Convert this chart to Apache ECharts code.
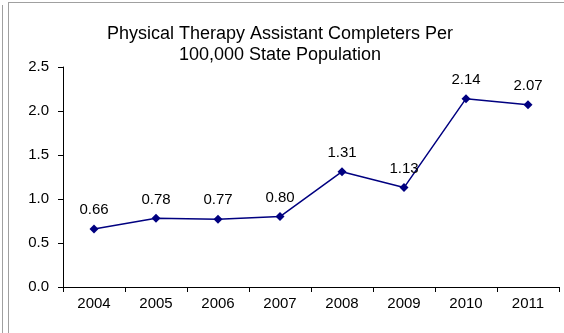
<!DOCTYPE html>
<html><head><meta charset="utf-8">
<script src="https://cdn.jsdelivr.net/npm/echarts@6/dist/echarts.min.js"></script>
<style>html,body{margin:0;padding:0;background:#fff}#c{width:564px;height:333px}</style>
</head><body><div id="c"></div>
<script>
const years = ['2004','2005','2006','2007','2008','2009','2010','2011'];
const completers = [0.66, 0.78, 0.77, 0.80, 1.31, 1.13, 2.14, 2.07];
const titleText = 'Physical Therapy Assistant Completers Per\n100,000 State Population';
const font = 'Liberation Sans, Arial, sans-serif';
const chart = echarts.init(document.getElementById('c'), null, {renderer:'canvas'});
chart.setOption({
  animation:false,
  backgroundColor:'#fff',
  title:{text:titleText,left:275,top:19,textAlign:'center',
    textStyle:{fontFamily:font,fontSize:18,fontWeight:'normal',color:'#000',lineHeight:21}},
  grid:{left:63,right:5,top:67,bottom:46},
  xAxis:{type:'category',data:years,boundaryGap:true,
    axisLine:{lineStyle:{color:'#000',width:1}},
    axisTick:{show:true,length:5,lineStyle:{color:'#000'},alignWithLabel:false},
    axisLabel:{color:'#000',fontFamily:font,fontSize:15,margin:9},
    splitLine:{show:false}},
  yAxis:{type:'value',min:0,max:2.5,interval:0.5,
    axisLine:{show:true,lineStyle:{color:'#000',width:1}},
    axisTick:{show:true,length:5,lineStyle:{color:'#000'}},
    axisLabel:{color:'#000',fontFamily:font,fontSize:15,margin:14,formatter:v=>v.toFixed(1)},
    splitLine:{show:false}},
  series:[{type:'line',data:completers,symbol:'diamond',symbolSize:9,
    lineStyle:{color:'#000080',width:1.5},itemStyle:{color:'#000080'},
    label:{show:true,position:'top',distance:7,color:'#000',fontFamily:font,fontSize:15,
      formatter:p=>p.value.toFixed(2)}}],
  graphic:[
    {type:'line',shape:{x1:2.5,y1:5,x2:2.5,y2:333},style:{stroke:'#a0a0a0',lineWidth:1}},
    {type:'line',shape:{x1:8.5,y1:2,x2:8.5,y2:333},style:{stroke:'#a0a0a0',lineWidth:1}},
    {type:'line',shape:{x1:8,y1:2.5,x2:564,y2:2.5},style:{stroke:'#a0a0a0',lineWidth:1}}
  ]
});
</script></body></html>
